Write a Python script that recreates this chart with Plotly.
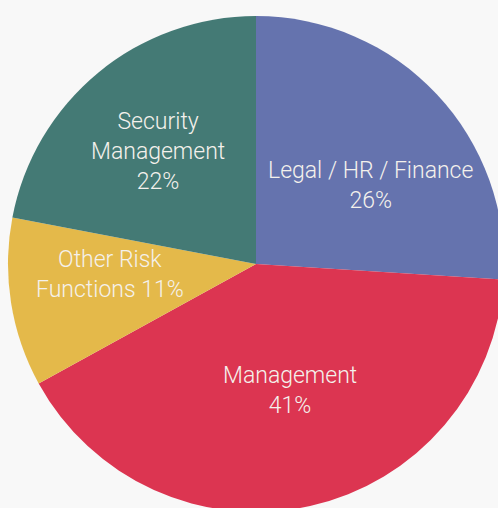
import math
import plotly.graph_objects as go

## Slice data, clockwise from 12 o'clock
labels = ["Legal / HR / Finance", "Management", "Other Risk Functions", "Security Management"]
values = [26, 41, 11, 22]
slice_text = ["Legal / HR / Finance<br>26%", "Management<br>41%",
              "Other Risk<br>Functions 11%", "Security<br>Management<br>22%"]
colors = ["#6573AE", "#DC3551", "#E4B94A", "#447A75"]

## label placement: distance from centre (fraction of radius) and turn off the bisector (degrees)
label_dist = [0.56, 0.53, 0.59, 0.6]
label_turn = [9, -2.5, 5, -1.5]

font = dict(family="Roboto", size=23, color="#F4F1EC", weight=300)

fig = go.Figure(go.Pie(
    labels=labels,
    values=values,
    textinfo="none",
    sort=False,
    direction="clockwise",
    rotation=0,
    marker=dict(colors=colors, line=dict(width=0)),
    hoverinfo="label+percent",
))

## labels go along each slice's bisector (pie centre is paper 0.5/0.5, radius 0.5)
total = sum(values)
cum = 0
for txt, v, d, turn in zip(slice_text, values, label_dist, label_turn):
    ang = math.radians((cum + v / 2) / total * 360 + turn)
    cum += v
    fig.add_annotation(
        x=0.5 + 0.5 * d * math.sin(ang),
        y=0.5 + 0.5 * d * math.cos(ang),
        xref="paper", yref="paper", xanchor="center", yanchor="middle",
        text=txt, showarrow=False, font=font, align="center",
    )

fig.update_layout(
    width=504, height=512,
    showlegend=False,
    margin=dict(l=8, r=0, t=16, b=0),
    paper_bgcolor="#F8F8F8",
    plot_bgcolor="#F8F8F8",
)

fig.write_html("out.html", config={"displayModeBar": False}, post_script=(
    "document.body.style.margin='0';"
    "document.body.style.overflow='hidden';"
    "document.documentElement.style.overflow='hidden';"
    "document.body.style.background='#F8F8F8';"
))
